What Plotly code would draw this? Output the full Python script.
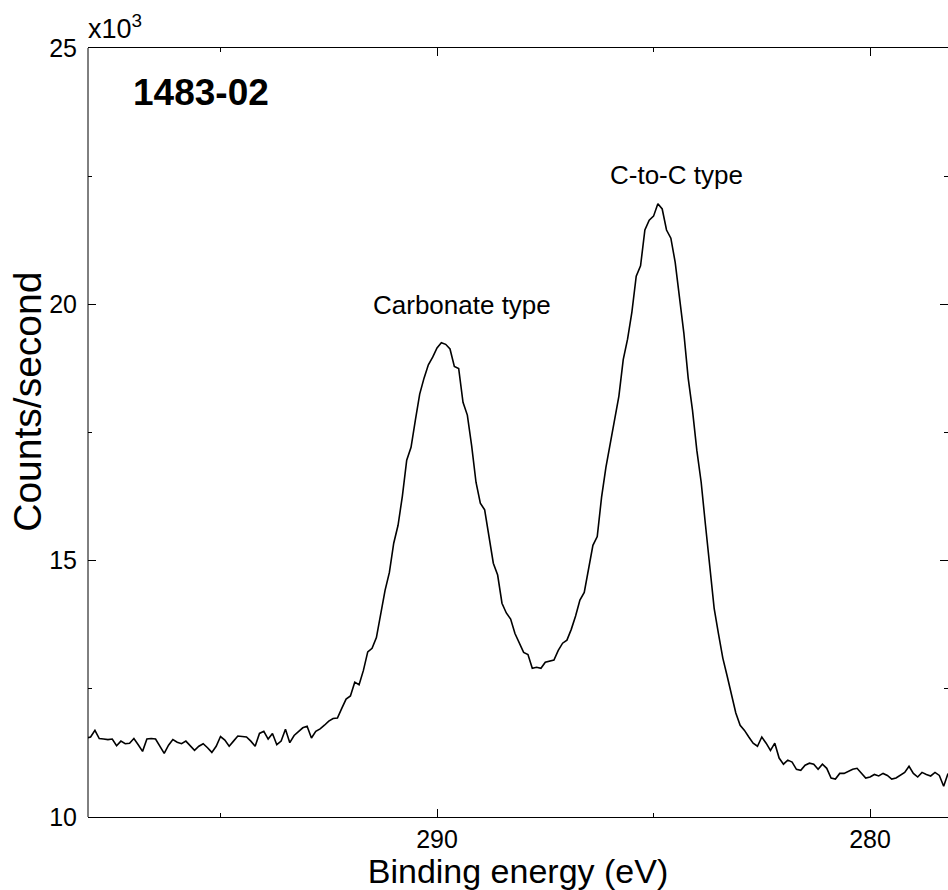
import numpy as np
import plotly.graph_objects as go

# Binding energy grid (eV), 0.1 eV steps, high to low
energy_start = 298.1
energy_step = 0.1

# Counts/second in thousands (x10^3)
counts_baseline = [
    11.54, 11.56, 11.69, 11.53, 11.52, 11.51, 11.52, 11.39, 11.48, 11.43,
    11.44, 11.53, 11.41, 11.28, 11.52, 11.53, 11.52, 11.37, 11.24, 11.40,
    11.51, 11.46, 11.43, 11.48, 11.38, 11.30, 11.38, 11.43, 11.35, 11.26,
    11.38, 11.57, 11.50, 11.38, 11.48, 11.58, 11.57, 11.56, 11.48, 11.38,
    11.63, 11.67, 11.52, 11.63, 11.41, 11.48, 11.71, 11.45, 11.59, 11.66,
    11.74, 11.77, 11.54, 11.67, 11.72, 11.79, 11.87, 11.92, 11.93, 12.12,
    12.30, 12.36, 12.63, 12.58, 12.86, 13.22, 13.29, 13.50,
]
counts_carbonate = [
    13.96, 14.42, 14.77, 15.34, 15.69, 16.26, 16.96, 17.21, 17.74, 18.25,
    18.56, 18.82, 18.97, 19.15, 19.25, 19.22, 19.13, 18.79, 18.75, 18.09,
    17.84, 17.24, 16.53, 16.12, 15.99, 15.48, 14.95, 14.72, 14.17, 13.98,
    13.86, 13.58, 13.41, 13.21,
]
counts_valley = [
    13.17, 12.90, 12.92, 12.90, 13.02, 13.04, 13.06, 13.25, 13.39, 13.45,
    13.66, 13.92, 14.23, 14.38, 14.81, 15.30, 15.47, 16.24, 16.82, 17.27,
]
counts_cc = [
    17.70, 18.21, 18.92, 19.32, 19.85, 20.55, 20.75, 21.45, 21.64, 21.72,
    21.96, 21.86, 21.45, 21.29, 20.82, 20.16, 19.44, 18.56, 17.93, 17.15,
    16.53, 15.69, 14.87, 14.07, 13.57, 13.10, 12.75, 12.41, 12.03, 11.79,
    11.69, 11.56, 11.44, 11.38, 11.56, 11.44, 11.30, 11.44, 11.15, 11.03,
    11.11, 11.07, 10.93, 10.91, 11.01, 11.05, 11.03, 10.93, 11.03, 10.95,
    10.76, 10.74, 10.85, 10.85, 10.89, 10.93, 10.95, 10.85, 10.76, 10.78,
    10.83, 10.80, 10.85, 10.81, 10.74, 10.76, 10.81, 10.87, 10.99, 10.85,
    10.78, 10.87, 10.83, 10.80, 10.87, 10.81, 10.60, 10.85,
]

x_tickvals = [290, 280]
x_ticktext = ["290", "280"]
y_tickvals = [10, 15, 20, 25]
y_ticktext = ["10", "15", "20", "25"]

sample_label = "1483-02"
peak_labels = ["Carbonate type", "C-to-C type"]
peak_label_x = [289.42, 284.46]
peak_label_y = [19.98, 22.52]

counts = counts_baseline + counts_carbonate + counts_valley + counts_cc
energy = np.round(energy_start - energy_step * np.arange(len(counts)), 2)

FONT = "Liberation Sans, Arial, sans-serif"

fig = go.Figure()
fig.add_trace(go.Scatter(
    x=energy, y=counts, mode="lines",
    line=dict(color="black", width=1.6),
    showlegend=False, hoverinfo="skip",
))

fig.update_layout(
    width=948, height=890,
    margin=dict(l=88, r=0, t=48, b=73),
    paper_bgcolor="white", plot_bgcolor="white",
    font=dict(family=FONT, color="black"),
    showlegend=False,
)

fig.update_xaxes(
    range=[298.06, 278.2],
    tickmode="array", tickvals=x_tickvals, ticktext=x_ticktext,
    ticks="inside", ticklen=8, tickwidth=1, tickcolor="black",
    minor=dict(tickmode="array", tickvals=[295, 285], ticks="inside", ticklen=4, tickcolor="black"),
    showline=True, linecolor="black", linewidth=1, mirror="ticks",
    showgrid=False, zeroline=False,
    tickfont=dict(size=25, family=FONT, color="black"),
    ticklabelstandoff=0,
    title=dict(text="Binding energy (eV)", font=dict(size=34, family=FONT, color="black"), standoff=7),
)
fig.update_yaxes(
    range=[10, 25],
    tickmode="array", tickvals=y_tickvals, ticktext=y_ticktext,
    ticks="inside", ticklen=8, tickwidth=1, tickcolor="black",
    minor=dict(tickmode="array", tickvals=[12.5, 17.5, 22.5], ticks="inside", ticklen=4, tickcolor="black"),
    showline=False, mirror="ticks",
    showgrid=False, zeroline=False,
    tickfont=dict(size=25, family=FONT, color="black"),
    ticklabelstandoff=10,
)

# left axis line
fig.add_shape(type="line", xref="paper", yref="paper", x0=0, x1=0, y0=0, y1=1,
              line=dict(color="black", width=1))

# y axis title (sits above centre in the original)
fig.add_annotation(text="Counts/second", xref="paper", yref="paper",
                   x=0, y=0.54, xanchor="center", yanchor="middle", xshift=-60,
                   textangle=-90, showarrow=False,
                   font=dict(size=39, family=FONT, color="black"))
# multiplier
fig.add_annotation(text="x10<sup>3</sup>", xref="paper", yref="paper",
                   x=0, y=1, xanchor="left", yanchor="bottom", yshift=2, xshift=-2,
                   showarrow=False, font=dict(size=27, family=FONT, color="black"))
# sample label
fig.add_annotation(text="<b>" + sample_label + "</b>", xref="x", yref="y",
                   x=295.45, y=24.14, xanchor="center", yanchor="middle",
                   showarrow=False, font=dict(size=37, family=FONT, color="black"))
for t, xx, yy in zip(peak_labels, peak_label_x, peak_label_y):
    fig.add_annotation(text=t, xref="x", yref="y", x=xx, y=yy,
                       xanchor="center", yanchor="middle", showarrow=False,
                       font=dict(size=26, family=FONT, color="black"))

fig.write_html("out.html")
